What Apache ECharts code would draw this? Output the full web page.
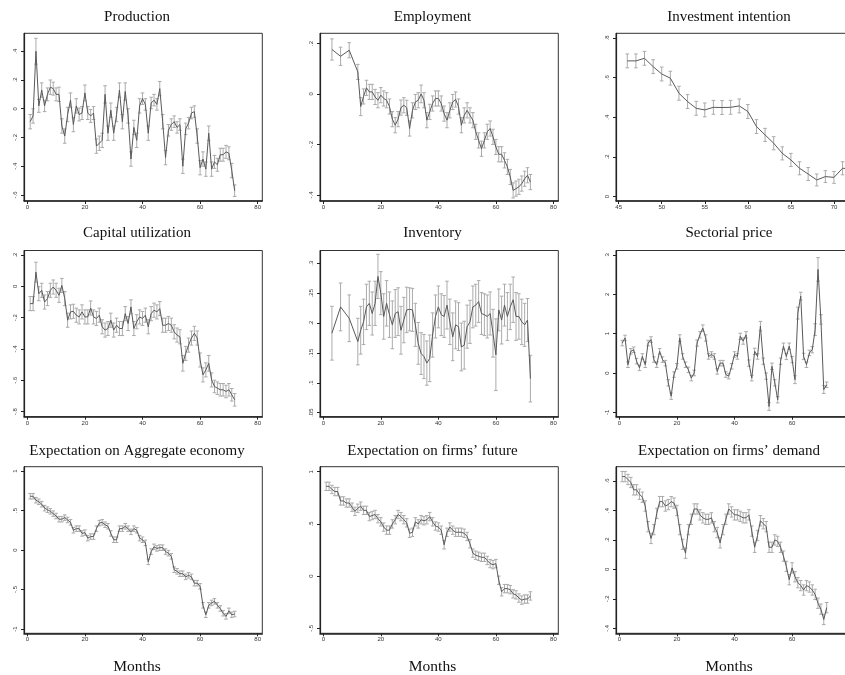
<!DOCTYPE html>
<html><head><meta charset="utf-8">
<script src="https://cdn.jsdelivr.net/npm/echarts@6/dist/echarts.min.js"></script>
<style>html,body{margin:0;padding:0;background:#fff}#c{width:845px;height:675px}</style>
</head><body><div id="c"></div>
<script>
// ---------------- DATA ----------------
const months = [1,2,3,4,5,6,7,8,9,10,11,12,13,14,15,16,17,18,19,20,21,22,23,24,25,26,27,28,29,30,31,32,33,34,35,36,37,38,39,40,41,42,43,44,45,46,47,48,49,50,51,52,53,54,55,56,57,58,59,60,61,62,63,64,65,66,67,68,69,70,71,72];
const quarterThenMonths = [3,6,9,12,13,14,15,16,17,18,19,20,21,22,23,24,25,26,27,28,29,30,31,32,33,34,35,36,37,38,39,40,41,42,43,44,45,46,47,48,49,50,51,52,53,54,55,56,57,58,59,60,61,62,63,64,65,66,67,68,69,70,71,72];
const investMonths = [46,47,48,49,50,51,52,53,54,55,56,57,58,59,60,61,62,63,64,65,66,67,68,69,70,71,72];

const titles = ["Production","Employment","Investment intention","Capital utilization","Inventory","Sectorial price","Expectation on Aggregate economy","Expectation on firms\u2019 future","Expectation on firms\u2019 demand"];
const xAxisTitle = "Months";

const production = [-0.09,-0.05,0.40,0.02,0.13,0.02,0.10,0.15,0.14,0.10,0.10,-0.12,-0.19,-0.04,0.06,-0.11,0.02,-0.04,-0.03,0.11,-0.03,-0.05,-0.03,-0.26,-0.24,-0.22,0.10,-0.17,-0.01,-0.17,-0.04,0.13,-0.09,0.12,-0.05,-0.35,-0.13,-0.22,0.02,0.07,0.03,-0.17,0.04,0.06,0.03,0.14,-0.09,-0.34,-0.15,-0.11,-0.09,-0.13,-0.11,-0.40,-0.14,-0.10,-0.03,-0.02,-0.19,-0.41,-0.35,-0.42,-0.17,-0.42,-0.37,-0.39,-0.32,-0.32,-0.30,-0.31,-0.43,-0.57];
const productionErr = [0.05,0.05,0.09,0.045,0.05,0.04,0.045,0.05,0.045,0.045,0.05,0.05,0.05,0.05,0.05,0.05,0.05,0.045,0.045,0.055,0.045,0.045,0.045,0.05,0.05,0.05,0.06,0.05,0.05,0.05,0.05,0.05,0.05,0.06,0.05,0.05,0.05,0.05,0.05,0.04,0.04,0.05,0.04,0.04,0.04,0.05,0.05,0.05,0.04,0.04,0.04,0.04,0.04,0.05,0.04,0.04,0.04,0.04,0.05,0.05,0.05,0.05,0.05,0.05,0.045,0.045,0.045,0.045,0.045,0.045,0.05,0.04];

const employment = [0.176,0.149,0.173,0.087,-0.05,-0.01,0.024,0.008,0.008,-0.012,-0.025,-0.005,-0.018,-0.025,-0.05,-0.1,-0.124,-0.1,-0.054,-0.045,-0.055,-0.137,-0.065,-0.032,-0.025,0,-0.025,-0.104,-0.071,-0.038,-0.018,-0.018,-0.038,-0.078,-0.104,-0.065,-0.032,-0.022,-0.05,-0.124,-0.085,-0.065,-0.085,-0.104,-0.15,-0.184,-0.217,-0.184,-0.15,-0.137,-0.17,-0.21,-0.239,-0.239,-0.263,-0.289,-0.329,-0.382,-0.375,-0.368,-0.355,-0.336,-0.322,-0.349];
const employmentErr = [0.042,0.036,0.03,0.03,0.036,0.03,0.03,0.03,0.03,0.03,0.03,0.03,0.03,0.03,0.03,0.03,0.03,0.03,0.03,0.03,0.03,0.03,0.03,0.03,0.03,0.035,0.03,0.03,0.03,0.03,0.03,0.03,0.03,0.03,0.03,0.03,0.03,0.03,0.03,0.03,0.03,0.03,0.03,0.03,0.03,0.03,0.03,0.03,0.03,0.03,0.03,0.03,0.03,0.03,0.03,0.03,0.03,0.03,0.03,0.03,0.03,0.03,0.03,0.03];

const investment = [0.684,0.684,0.697,0.655,0.618,0.597,0.521,0.479,0.445,0.437,0.45,0.449,0.45,0.457,0.429,0.353,0.311,0.269,0.218,0.185,0.143,0.114,0.084,0.101,0.097,0.143,0.14];
const investmentErr = [0.035,0.035,0.035,0.035,0.035,0.035,0.035,0.035,0.035,0.035,0.035,0.035,0.035,0.035,0.035,0.035,0.033,0.033,0.033,0.033,0.033,0.033,0.03,0.03,0.03,0.033,0.033];

const capitalUtil = [-0.11,-0.11,0.091,-0.047,-0.025,-0.1,-0.078,-0.025,-0.004,-0.025,-0.057,0.006,-0.078,-0.216,-0.163,-0.159,-0.184,-0.195,-0.163,-0.195,-0.195,-0.138,-0.195,-0.205,-0.184,-0.258,-0.279,-0.269,-0.216,-0.279,-0.248,-0.269,-0.269,-0.174,-0.237,-0.131,-0.269,-0.226,-0.195,-0.205,-0.184,-0.258,-0.174,-0.152,-0.163,-0.142,-0.248,-0.248,-0.237,-0.248,-0.29,-0.311,-0.322,-0.491,-0.428,-0.375,-0.33,-0.3,-0.33,-0.47,-0.565,-0.533,-0.491,-0.597,-0.639,-0.65,-0.66,-0.66,-0.671,-0.66,-0.692,-0.724];
const capitalUtilErr = [0.045,0.045,0.063,0.045,0.045,0.045,0.045,0.045,0.045,0.045,0.045,0.045,0.045,0.045,0.045,0.045,0.045,0.045,0.045,0.045,0.045,0.045,0.045,0.045,0.045,0.045,0.045,0.045,0.045,0.045,0.045,0.045,0.045,0.045,0.045,0.045,0.045,0.045,0.045,0.045,0.045,0.045,0.045,0.045,0.045,0.045,0.045,0.045,0.045,0.045,0.045,0.045,0.045,0.05,0.045,0.045,0.045,0.045,0.045,0.045,0.045,0.045,0.05,0.045,0.04,0.04,0.04,0.04,0.04,0.04,0.04,0.04];

const inventory = [0.183,0.227,0.208,0.169,0.188,0.202,0.227,0.233,0.216,0.233,0.278,0.25,0.211,0.233,0.214,0.197,0.216,0.219,0.188,0.205,0.222,0.223,0.222,0.197,0.166,0.149,0.144,0.133,0.141,0.18,0.211,0.227,0.214,0.211,0.23,0.202,0.177,0.197,0.194,0.16,0.163,0.194,0.202,0.227,0.23,0.236,0.216,0.214,0.211,0.216,0.183,0.147,0.222,0.205,0.23,0.211,0.227,0.239,0.211,0.211,0.202,0.197,0.205,0.107];
const inventoryErr = [0.045,0.04,0.039,0.039,0.04,0.038,0.038,0.037,0.036,0.037,0.037,0.036,0.038,0.038,0.038,0.04,0.04,0.04,0.04,0.038,0.038,0.036,0.036,0.036,0.035,0.035,0.037,0.037,0.039,0.037,0.036,0.035,0.035,0.035,0.04,0.038,0.04,0.04,0.04,0.04,0.04,0.036,0.036,0.035,0.035,0.035,0.035,0.035,0.036,0.036,0.04,0.06,0.035,0.04,0.035,0.04,0.038,0.038,0.04,0.038,0.038,0.036,0.036,0.039];

const sectorialPrice = [0.76,0.89,0.21,0.55,0.59,0.3,0.13,0.42,0.21,0.76,0.85,0.34,0.21,0.55,0.34,0.25,-0.25,-0.59,-0.04,0.17,0.89,0.42,0.21,0.08,-0.13,0,0.76,0.97,1.14,0.89,0.42,0.47,0.42,0.04,0.25,0.25,-0.04,-0.08,0.17,0.47,0.42,0.93,0.81,0.97,0.25,-0.13,0.55,0.42,1.19,0.3,-0.08,-0.85,0.17,-0.25,-0.68,0.3,0.68,0.42,0.68,0.34,-0.17,1.52,1.95,0.42,0.21,0.51,0.59,1.1,2.63,1.36,-0.42,-0.3];
const sectorialPriceErr = [0.07,0.07,0.07,0.07,0.07,0.07,0.07,0.07,0.07,0.07,0.07,0.07,0.07,0.07,0.07,0.07,0.08,0.08,0.07,0.07,0.08,0.07,0.07,0.07,0.07,0.07,0.08,0.08,0.08,0.08,0.07,0.07,0.07,0.07,0.07,0.07,0.07,0.07,0.07,0.07,0.07,0.08,0.08,0.08,0.08,0.07,0.08,0.07,0.12,0.08,0.08,0.1,0.08,0.08,0.08,0.08,0.08,0.08,0.08,0.08,0.1,0.15,0.1,0.08,0.07,0.07,0.08,0.15,0.3,0.12,0.1,0.07];

const expAggregate = [0.68,0.68,0.63,0.61,0.58,0.53,0.51,0.49,0.46,0.43,0.39,0.39,0.41,0.38,0.35,0.25,0.27,0.27,0.21,0.22,0.15,0.17,0.17,0.27,0.34,0.35,0.32,0.3,0.21,0.13,0.13,0.27,0.27,0.3,0.27,0.23,0.27,0.25,0.15,0.13,0.09,-0.15,-0.02,0.04,0.02,0.03,0.03,-0.02,-0.04,-0.08,-0.25,-0.27,-0.3,-0.3,-0.34,-0.32,-0.34,-0.42,-0.42,-0.46,-0.7,-0.82,-0.7,-0.67,-0.65,-0.7,-0.74,-0.8,-0.84,-0.77,-0.82,-0.81];
const expAggregateErr = [0.035,0.035,0.035,0.035,0.035,0.035,0.035,0.035,0.035,0.035,0.035,0.035,0.035,0.035,0.035,0.035,0.035,0.035,0.035,0.035,0.035,0.035,0.035,0.035,0.035,0.035,0.035,0.035,0.035,0.035,0.035,0.035,0.035,0.035,0.035,0.035,0.035,0.035,0.035,0.035,0.035,0.035,0.035,0.035,0.035,0.035,0.035,0.035,0.035,0.035,0.035,0.035,0.035,0.035,0.035,0.035,0.035,0.035,0.035,0.035,0.035,0.035,0.035,0.035,0.035,0.035,0.035,0.035,0.035,0.035,0.035,0.035];

const expFuture = [0.86,0.86,0.83,0.81,0.81,0.72,0.72,0.7,0.7,0.66,0.62,0.65,0.67,0.63,0.63,0.57,0.58,0.59,0.55,0.52,0.47,0.44,0.44,0.5,0.54,0.59,0.57,0.54,0.51,0.41,0.42,0.52,0.5,0.54,0.53,0.54,0.57,0.52,0.48,0.47,0.44,0.3,0.42,0.47,0.44,0.42,0.42,0.42,0.41,0.38,0.31,0.22,0.2,0.19,0.18,0.18,0.15,0.12,0.11,0.12,-0.04,-0.15,-0.12,-0.12,-0.13,-0.17,-0.18,-0.21,-0.23,-0.22,-0.22,-0.19];
const expFutureErr = [0.04,0.04,0.04,0.04,0.04,0.04,0.04,0.04,0.04,0.04,0.04,0.04,0.04,0.04,0.04,0.04,0.04,0.04,0.04,0.04,0.04,0.04,0.04,0.04,0.04,0.04,0.04,0.04,0.04,0.04,0.04,0.04,0.04,0.04,0.04,0.04,0.04,0.04,0.04,0.04,0.04,0.04,0.04,0.04,0.04,0.04,0.04,0.04,0.04,0.04,0.04,0.04,0.04,0.04,0.04,0.04,0.04,0.04,0.04,0.04,0.04,0.04,0.04,0.04,0.04,0.04,0.04,0.04,0.04,0.04,0.04,0.04];

const expDemand = [0.63,0.63,0.61,0.59,0.54,0.54,0.51,0.49,0.43,0.29,0.21,0.27,0.38,0.46,0.46,0.43,0.44,0.46,0.45,0.4,0.27,0.17,0.11,0.27,0.34,0.41,0.41,0.37,0.35,0.34,0.34,0.35,0.29,0.25,0.18,0.27,0.34,0.41,0.39,0.37,0.37,0.36,0.35,0.35,0.37,0.26,0.15,0.23,0.33,0.31,0.29,0.15,0.15,0.2,0.19,0.15,0.09,0.02,-0.07,0.01,-0.05,-0.09,-0.11,-0.14,-0.11,-0.12,-0.14,-0.17,-0.23,-0.27,-0.34,-0.26];
const expDemandErr = [0.035,0.035,0.035,0.035,0.035,0.035,0.035,0.035,0.035,0.035,0.035,0.035,0.035,0.035,0.035,0.035,0.035,0.035,0.035,0.035,0.035,0.035,0.035,0.035,0.035,0.035,0.035,0.035,0.035,0.035,0.035,0.035,0.035,0.035,0.035,0.035,0.035,0.035,0.035,0.035,0.035,0.035,0.035,0.035,0.035,0.035,0.035,0.035,0.035,0.035,0.035,0.035,0.035,0.035,0.035,0.035,0.035,0.035,0.035,0.035,0.035,0.035,0.035,0.035,0.035,0.035,0.035,0.035,0.035,0.035,0.035,0.035];

const monthTicks = [0,20,40,60,80];
const investTicks = [45,50,55,60,65,70];
const yTicksProduction = [-0.6,-0.4,-0.2,0,0.2,0.4];
const yTicksEmployment = [-0.4,-0.2,0,0.2];
const yTicksInvestment = [0,0.2,0.4,0.6,0.8];
const yTicksCapital = [-0.8,-0.6,-0.4,-0.2,0,0.2];
const yTicksInventory = [0.05,0.1,0.15,0.2,0.25,0.3];
const yTicksPrice = [-1,0,1,2,3];
const yTicksAggregate = [-1,-0.5,0,0.5,1];
const yTicksFuture = [-0.5,0,0.5,1];
const yTicksDemand = [-0.4,-0.2,0,0.2,0.4,0.6];

// ---------------- PANELS ----------------
const panels = [
  {x: months, y: production, e: productionErr, xt: monthTicks, yt: yTicksProduction},
  {x: quarterThenMonths, y: employment, e: employmentErr, xt: monthTicks, yt: yTicksEmployment},
  {x: investMonths, y: investment, e: investmentErr, xt: investTicks, yt: yTicksInvestment},
  {x: months, y: capitalUtil, e: capitalUtilErr, xt: monthTicks, yt: yTicksCapital},
  {x: quarterThenMonths, y: inventory, e: inventoryErr, xt: monthTicks, yt: yTicksInventory},
  {x: months, y: sectorialPrice, e: sectorialPriceErr, xt: monthTicks, yt: yTicksPrice},
  {x: months, y: expAggregate, e: expAggregateErr, xt: monthTicks, yt: yTicksAggregate},
  {x: months, y: expFuture, e: expFutureErr, xt: monthTicks, yt: yTicksFuture},
  {x: months, y: expDemand, e: expDemandErr, xt: monthTicks, yt: yTicksDemand}
];

// layout: grid box, axis extents, title centre
const colLeft = [24, 320, 616];
const rowTop = [33.3, 250.5, 466.7];
const rowH = [167.7, 166.2, 166.6];
const gridW = 238.3;
const xExt = [[-1.15,81.6],[-1.15,81.7],[44.69,72.36],[-1.15,81.6],[-1.15,81.7],[-1.15,81.6],[-1.15,81.6],[-1.15,81.7],[-1.15,81.6]];
const yExt = [[-0.642,0.525],[-0.424,0.24],[-0.022,0.823],[-0.832,0.229],[0.0433,0.3214],[-1.11,3.11],[-1.054,1.054],[-0.548,1.048],[-0.434,0.697]];
const titleX = [137, 432.5, 729];
const titleY = [17, 233, 451.5];

function stataFmt(v){
  let s = String(Math.round(v*1000)/1000);
  return s.replace(/^(-?)0\./, '$1.');
}

const grids = [], xAxes = [], yAxes = [], series = [], graphics = [];
const LINE = '#5a5a5a', BAR = '#ababab', AX = '#222';

panels.forEach((p, i) => {
  const r = Math.floor(i/3), c = i%3;
  grids.push({left: colLeft[c], top: rowTop[r], width: gridW, height: rowH[r], show: true, borderColor: '#333', borderWidth: 1, backgroundColor: '#fff', containLabel: false, outerBoundsMode: 'none'});
  xAxes.push({type:'value', gridIndex:i, min:xExt[i][0], max:xExt[i][1], splitLine:{show:false},
    axisLine:{show:true, onZero:false, lineStyle:{color:AX, width:1.6}},
    axisTick:{show:true, length:3, customValues:p.xt, lineStyle:{color:AX}},
    axisLabel:{customValues:p.xt, fontSize:6, color:'#333', margin:3.5, fontFamily:'Liberation Sans', formatter: stataFmt}});
  yAxes.push({type:'value', gridIndex:i, min:yExt[i][0], max:yExt[i][1], splitLine:{show:false},
    axisLine:{show:true, onZero:false, lineStyle:{color:AX, width:1.2}},
    axisTick:{show:true, length:3, customValues:p.yt, lineStyle:{color:AX}},
    axisLabel:{customValues:p.yt, fontSize:6, color:'#333', margin:6, rotate:90, fontFamily:'Liberation Sans', formatter: stataFmt}});
  const errData = p.x.map((xv, k) => [xv, p.y[k]-p.e[k], p.y[k]+p.e[k]]);
  series.push({type:'custom', xAxisIndex:i, yAxisIndex:i, data: errData, encode:{x:0, y:[1,2]}, silent:true, animation:false,
    renderItem: function(params, api){
      const xv = api.value(0);
      const a = api.coord([xv, api.value(1)]);
      const b = api.coord([xv, api.value(2)]);
      const hw = 1.8;
      const st = {stroke: BAR, lineWidth: 1};
      return {type:'group', children:[
        {type:'line', shape:{x1:a[0], y1:a[1], x2:b[0], y2:b[1]}, style:st},
        {type:'line', shape:{x1:a[0]-hw, y1:a[1], x2:a[0]+hw, y2:a[1]}, style:st},
        {type:'line', shape:{x1:b[0]-hw, y1:b[1], x2:b[0]+hw, y2:b[1]}, style:st}
      ]};
    }});
  series.push({type:'line', xAxisIndex:i, yAxisIndex:i, data: p.x.map((xv,k)=>[xv, p.y[k]]), showSymbol:false, symbol:'none', animation:false, silent:true,
    lineStyle:{color: LINE, width: 1}});
  graphics.push({type:'text', x: titleX[c], y: titleY[r], style:{text: titles[i], textAlign:'center', textVerticalAlign:'middle', font:'15px "Liberation Serif"', fill:'#111'}});
  if (r === 2) {
    graphics.push({type:'text', x: titleX[c], y: 667, style:{text: xAxisTitle, textAlign:'center', textVerticalAlign:'middle', font:'15.5px "Liberation Serif"', fill:'#111'}});
  }
});

const chart = echarts.init(document.getElementById('c'), null, {renderer:'canvas'});
chart.setOption({animation:false, backgroundColor:'#fff', grid: grids, xAxis: xAxes, yAxis: yAxes, series: series, graphic: graphics});
</script>
</body></html>
